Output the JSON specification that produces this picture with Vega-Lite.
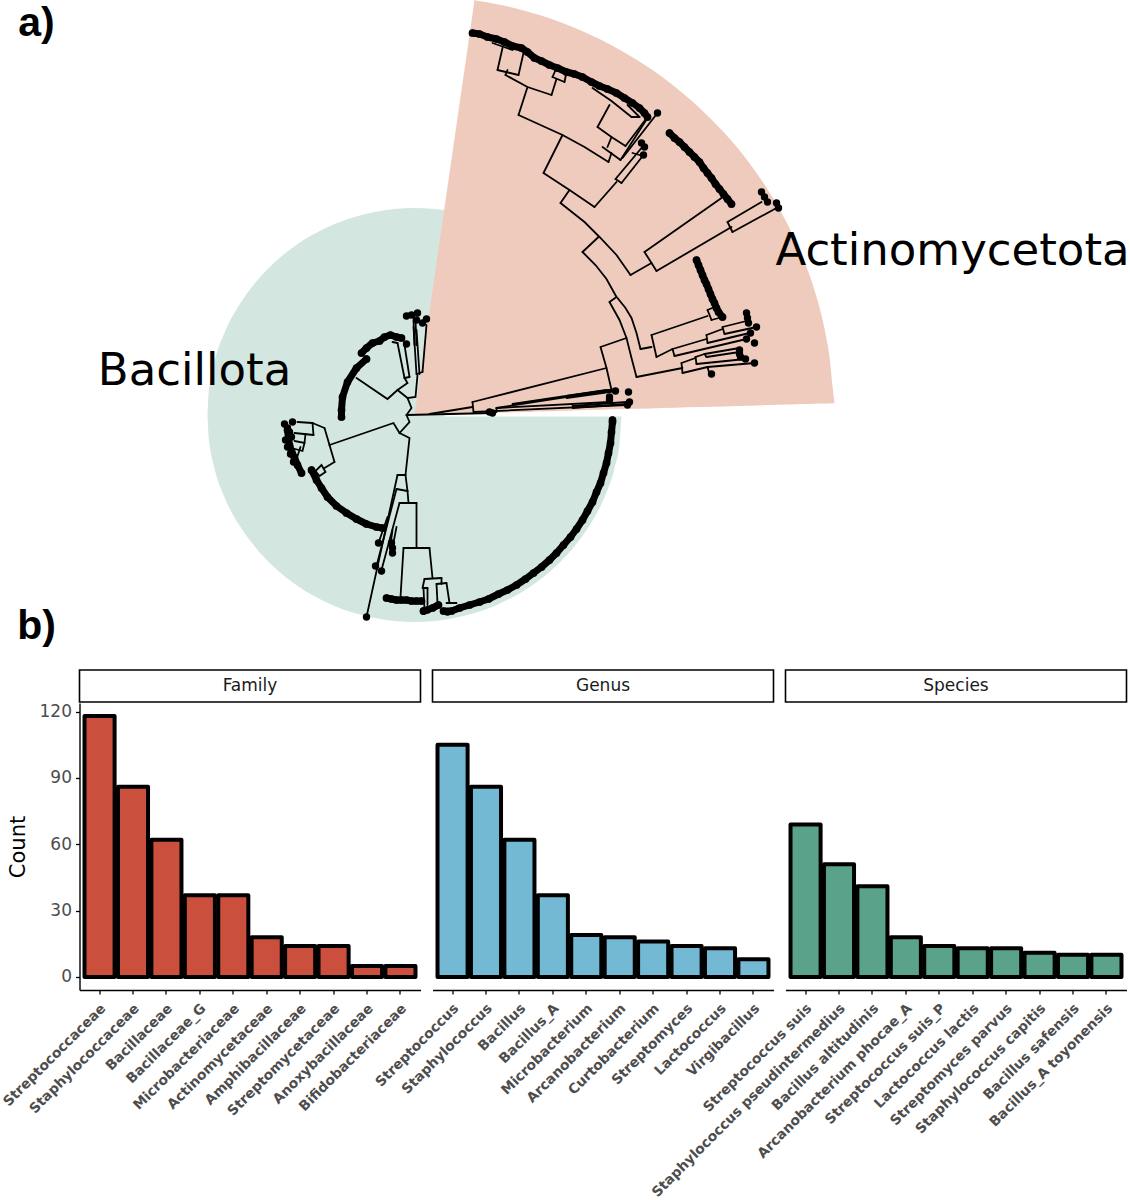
{"$schema":"https://vega.github.io/schema/vega-lite/v6.json","padding":{"left":-0.5,"right":0,"top":0,"bottom":0},"background":"white","bounds":"flush","spacing":0,
"config":{"view":{"stroke":null},"font":"DejaVu Sans"},
"datasets":{
"bars":[{"panel":"Family","name":"Streptococcaceae","count":118},{"panel":"Family","name":"Staphylococcaceae","count":86},{"panel":"Family","name":"Bacillaceae","count":62},{"panel":"Family","name":"Bacillaceae_G","count":37},{"panel":"Family","name":"Microbacteriaceae","count":37},{"panel":"Family","name":"Actinomycetaceae","count":18},{"panel":"Family","name":"Amphibacillaceae","count":14},{"panel":"Family","name":"Streptomycetaceae","count":14},{"panel":"Family","name":"Anoxybacillaceae","count":5},{"panel":"Family","name":"Bifidobacteriaceae","count":5},
{"panel":"Genus","name":"Streptococcus","count":105},{"panel":"Genus","name":"Staphylococcus","count":86},{"panel":"Genus","name":"Bacillus","count":62},{"panel":"Genus","name":"Bacillus_A","count":37},{"panel":"Genus","name":"Microbacterium","count":19},{"panel":"Genus","name":"Arcanobacterium","count":18},{"panel":"Genus","name":"Curtobacterium","count":16},{"panel":"Genus","name":"Streptomyces","count":14},{"panel":"Genus","name":"Lactococcus","count":13},{"panel":"Genus","name":"Virgibacillus","count":8},
{"panel":"Species","name":"Streptococcus suis","count":69},{"panel":"Species","name":"Staphylococcus pseudintermedius","count":51},{"panel":"Species","name":"Bacillus altitudinis","count":41},{"panel":"Species","name":"Arcanobacterium phocae_A","count":18},{"panel":"Species","name":"Streptococcus suis_P","count":14},{"panel":"Species","name":"Lactococcus lactis","count":13},{"panel":"Species","name":"Streptomyces parvus","count":13},{"panel":"Species","name":"Staphylococcus capitis","count":11},{"panel":"Species","name":"Bacillus safensis","count":10},{"panel":"Species","name":"Bacillus_A toyonensis","count":10}],
"bacillotaLeft":[{"x":208,"top":415,"bot":415},{"x":209,"top":395,"bot":435},{"x":210,"top":386.3,"bot":443.7},{"x":215,"top":361.6,"bot":468.4},{"x":225,"top":332.8,"bot":497.2},{"x":240,"top":304.4,"bot":525.6},{"x":255,"top":283.7,"bot":546.3},{"x":275,"top":262.5,"bot":567.5},{"x":295,"top":246.3,"bot":583.7},{"x":315,"top":233.8,"bot":596.2},{"x":335,"top":224.1,"bot":605.9},{"x":355,"top":216.9,"bot":613.1},{"x":375,"top":211.9,"bot":618.1},{"x":395,"top":209,"bot":621},{"x":415,"top":208,"bot":622},{"x":435,"top":209,"bot":621},{"x":445,"top":210.2,"bot":619.8}],
"bacillotaRight":[{"x":444.5,"top":416.5,"bot":619.8},{"x":455,"top":416.5,"bot":618.1},{"x":475,"top":416.5,"bot":613.1},{"x":495,"top":416.5,"bot":605.9},{"x":515,"top":416.5,"bot":596.2},{"x":535,"top":416.5,"bot":583.7},{"x":555,"top":416.5,"bot":567.5},{"x":575,"top":416.5,"bot":546.3},{"x":590,"top":416.5,"bot":525.6},{"x":605,"top":416.5,"bot":497.2},{"x":615,"top":416.5,"bot":468.4},{"x":620,"top":416.5,"bot":443.7},{"x":622,"top":416.5,"bot":416.5}],
"actinoLeft":[{"x":415,"top":415,"bot":415},{"x":475,"top":0.3,"bot":413.3}],
"actinoRight":[{"x":474.5,"top":0.3,"bot":413.3},{"x":500,"top":4.7,"bot":412.6},{"x":525,"top":10.7,"bot":411.9},{"x":550,"top":18.3,"bot":411.2},{"x":575,"top":27.7,"bot":410.5},{"x":600,"top":39.1,"bot":409.8},{"x":625,"top":52.4,"bot":409.1},{"x":650,"top":68.1,"bot":408.4},{"x":675,"top":86.4,"bot":407.7},{"x":700,"top":107.9,"bot":407},{"x":725,"top":133.1,"bot":406.4},{"x":750,"top":163.3,"bot":405.7},{"x":770,"top":192.4,"bot":405.1},{"x":790,"top":228.1,"bot":404.5},{"x":805,"top":261.8,"bot":404.1},{"x":815,"top":290.3,"bot":403.8},{"x":825,"top":328.6,"bot":403.6},{"x":830,"top":357.2,"bot":403.4},{"x":833,"top":386.1,"bot":403.3},{"x":835,"top":403,"bot":403}],
"labels":[{"t":"Actinomycetota","x":953,"y":251},{"t":"Bacillota","x":195,"y":371}],
"tags":[{"t":"a)","x":37,"y":24},{"t":"b)","x":37,"y":627}],
"tips":[{"x":658,"y":113},{"x":762,"y":192},{"x":765,"y":197},{"x":768,"y":202},{"x":777,"y":203},{"x":779,"y":208},{"x":642,"y":143},{"x":645,"y":147},{"x":644,"y":155},{"x":747,"y":313},{"x":748,"y":318},{"x":749,"y":323},{"x":757,"y":327},{"x":751,"y":333},{"x":747,"y":339},{"x":755,"y":343},{"x":740,"y":350},{"x":740,"y":354},{"x":741,"y":357},{"x":746,"y":359},{"x":755,"y":363},{"x":712,"y":374},{"x":629,"y":392},{"x":610,"y":397},{"x":610,"y":400},{"x":630,"y":402},{"x":628,"y":405},{"x":616,"y":391},{"x":493,"y":413},{"x":490,"y":412},{"x":407,"y":316},{"x":412,"y":315},{"x":418,"y":313},{"x":417,"y":320},{"x":427,"y":319},{"x":423,"y":323},{"x":407,"y":344},{"x":285,"y":424},{"x":293,"y":422},{"x":288,"y":428},{"x":290,"y":432},{"x":292,"y":437},{"x":286,"y":440},{"x":288,"y":447},{"x":291,"y":454},{"x":294,"y":462},{"x":367,"y":617},{"x":379,"y":543},{"x":376,"y":566},{"x":382,"y":571},{"x":392,"y":543},{"x":393,"y":548},{"x":393,"y":553},{"x":424,"y":611},{"x":428,"y":610},{"x":448,"y":612}],
"dense":[
{"id":"A","x":473,"y":33},{"id":"A","x":480,"y":34},{"id":"A","x":488,"y":37},{"id":"A","x":497,"y":39},{"id":"A","x":505,"y":42},{"id":"A","x":513,"y":46},{"id":"A","x":522,"y":48},{"id":"A","x":528,"y":52},{"id":"A","x":535,"y":58},{"id":"A","x":542,"y":61},{"id":"A","x":550,"y":65},{"id":"A","x":558,"y":68},{"id":"A","x":567,"y":72},{"id":"A","x":575,"y":74},{"id":"A","x":583,"y":77},{"id":"A","x":592,"y":82},{"id":"A","x":600,"y":86},{"id":"A","x":608,"y":89},{"id":"A","x":617,"y":93},{"id":"A","x":625,"y":98},{"id":"A","x":633,"y":103},{"id":"A","x":640,"y":108},{"id":"A","x":645,"y":113},{"id":"A","x":648,"y":117},
{"id":"B","x":670,"y":133},{"id":"B","x":675,"y":138},{"id":"B","x":680,"y":142},{"id":"B","x":685,"y":147},{"id":"B","x":690,"y":152},{"id":"B","x":695,"y":157},{"id":"B","x":700,"y":162},{"id":"B","x":704,"y":168},{"id":"B","x":708,"y":173},{"id":"B","x":712,"y":178},{"id":"B","x":716,"y":184},{"id":"B","x":720,"y":189},{"id":"B","x":724,"y":194},{"id":"B","x":728,"y":199},{"id":"B","x":732,"y":204},
{"id":"C","x":697,"y":260},{"id":"C","x":699,"y":265},{"id":"C","x":701,"y":270},{"id":"C","x":703,"y":275},{"id":"C","x":705,"y":280},{"id":"C","x":707,"y":284},{"id":"C","x":709,"y":289},{"id":"C","x":711,"y":294},{"id":"C","x":713,"y":299},{"id":"C","x":715,"y":303},{"id":"C","x":717,"y":308},{"id":"C","x":719,"y":312},{"id":"C","x":723,"y":317},
{"id":"D","x":362,"y":353},{"id":"D","x":367,"y":348},{"id":"D","x":373,"y":343},{"id":"D","x":380,"y":341},{"id":"D","x":385,"y":337},{"id":"D","x":391,"y":335},{"id":"D","x":397,"y":337},{"id":"D","x":402,"y":338},
{"id":"E","x":367,"y":359},{"id":"E","x":357,"y":368},{"id":"E","x":348,"y":382},{"id":"E","x":343,"y":397},{"id":"E","x":342,"y":410},{"id":"E","x":342,"y":417},
{"id":"F","x":288,"y":430},{"id":"F","x":289,"y":438},{"id":"F","x":290,"y":445},{"id":"F","x":292,"y":451},{"id":"F","x":295,"y":458},{"id":"F","x":298,"y":465},{"id":"F","x":302,"y":473},
{"id":"G","x":312,"y":470},{"id":"G","x":317,"y":480},{"id":"G","x":322,"y":488},{"id":"G","x":328,"y":497},{"id":"G","x":337,"y":506},{"id":"G","x":347,"y":513},{"id":"G","x":357,"y":519},{"id":"G","x":367,"y":524},{"id":"G","x":377,"y":527},{"id":"G","x":383,"y":528},
{"id":"H","x":613,"y":420},{"id":"H","x":613,"y":422},{"id":"H","x":612,"y":432},{"id":"H","x":611,"y":443},{"id":"H","x":609,"y":453},{"id":"H","x":607,"y":463},{"id":"H","x":604,"y":473},{"id":"H","x":601,"y":483},{"id":"H","x":597,"y":492},{"id":"H","x":593,"y":502},{"id":"H","x":588,"y":511},{"id":"H","x":583,"y":520},{"id":"H","x":577,"y":529},{"id":"H","x":571,"y":537},{"id":"H","x":564,"y":545},{"id":"H","x":557,"y":553},{"id":"H","x":550,"y":560},{"id":"H","x":542,"y":567},{"id":"H","x":534,"y":573},{"id":"H","x":526,"y":579},{"id":"H","x":517,"y":585},{"id":"H","x":508,"y":590},{"id":"H","x":499,"y":594},{"id":"H","x":489,"y":599},{"id":"H","x":480,"y":602},{"id":"H","x":470,"y":605},{"id":"H","x":460,"y":608},{"id":"H","x":452,"y":611},{"id":"H","x":444,"y":611},
{"id":"I","x":387,"y":598},{"id":"I","x":392,"y":599},{"id":"I","x":397,"y":600},{"id":"I","x":402,"y":600},{"id":"I","x":407,"y":600},{"id":"I","x":412,"y":601},{"id":"I","x":417,"y":601},{"id":"I","x":422,"y":601},
{"id":"J","x":424,"y":611},{"id":"J","x":433,"y":608},{"id":"J","x":439,"y":605}],
"branches":[
{"id":1,"x":645,"y":252},{"id":1,"x":722,"y":198},{"id":2,"x":645,"y":252},{"id":2,"x":652,"y":263},{"id":2,"x":657,"y":271},{"id":3,"x":657,"y":271},{"id":3,"x":732,"y":227},{"id":4,"x":728,"y":222},{"id":4,"x":733,"y":232},{"id":5,"x":728,"y":222},{"id":5,"x":762,"y":202},{"id":6,"x":733,"y":232},{"id":6,"x":777,"y":208},{"id":7,"x":631,"y":275},{"id":7,"x":652,"y":263},
{"id":8,"x":561,"y":203},{"id":8,"x":585,"y":222},{"id":8,"x":600,"y":237},{"id":8,"x":617,"y":255},{"id":8,"x":631,"y":275},{"id":9,"x":570,"y":190},{"id":9,"x":561,"y":203},{"id":10,"x":544,"y":173},{"id":10,"x":570,"y":190},{"id":10,"x":595,"y":207},{"id":11,"x":595,"y":207},{"id":11,"x":617,"y":182},{"id":12,"x":616,"y":179},{"id":12,"x":622,"y":183},{"id":13,"x":616,"y":179},{"id":13,"x":642,"y":148},{"id":14,"x":622,"y":183},{"id":14,"x":644,"y":155},{"id":15,"x":633,"y":153},{"id":15,"x":640,"y":155},
{"id":16,"x":544,"y":173},{"id":16,"x":563,"y":135},{"id":17,"x":519,"y":115},{"id":17,"x":563,"y":135},{"id":17,"x":585,"y":147},{"id":17,"x":609,"y":162},{"id":18,"x":519,"y":115},{"id":18,"x":528,"y":87},{"id":19,"x":506,"y":75},{"id":19,"x":528,"y":87},{"id":19,"x":552,"y":95},{"id":20,"x":552,"y":95},{"id":20,"x":557,"y":79},{"id":21,"x":553,"y":77},{"id":21,"x":565,"y":82},{"id":210,"x":553,"y":77},{"id":210,"x":557,"y":68},{"id":211,"x":565,"y":82},{"id":211,"x":567,"y":72},{"id":22,"x":498,"y":70},{"id":22,"x":519,"y":75},{"id":23,"x":498,"y":70},{"id":23,"x":503,"y":48},{"id":24,"x":519,"y":75},{"id":24,"x":524,"y":53},{"id":25,"x":493,"y":43},{"id":25,"x":513,"y":50},{"id":26,"x":506,"y":75},{"id":26,"x":508,"y":70},
{"id":27,"x":603,"y":147},{"id":27,"x":621,"y":160},{"id":28,"x":609,"y":162},{"id":28,"x":612,"y":153},{"id":29,"x":621,"y":160},{"id":29,"x":648,"y":118},{"id":30,"x":623,"y":158},{"id":30,"x":658,"y":113},{"id":31,"x":608,"y":147},{"id":31,"x":612,"y":137},{"id":32,"x":598,"y":127},{"id":32,"x":612,"y":137},{"id":32,"x":626,"y":146},{"id":33,"x":598,"y":127},{"id":33,"x":610,"y":105},{"id":34,"x":626,"y":146},{"id":34,"x":648,"y":117},{"id":35,"x":593,"y":88},{"id":35,"x":612,"y":101},{"id":35,"x":632,"y":117},{"id":37,"x":628,"y":105},{"id":37,"x":640,"y":117},{"id":370,"x":632,"y":117},{"id":370,"x":640,"y":117},
{"id":38,"x":583,"y":252},{"id":38,"x":599,"y":237},{"id":39,"x":583,"y":252},{"id":39,"x":596,"y":265},{"id":39,"x":607,"y":279},{"id":39,"x":617,"y":297},{"id":40,"x":617,"y":297},{"id":40,"x":610,"y":302},{"id":41,"x":610,"y":302},{"id":41,"x":620,"y":320},{"id":41,"x":627,"y":338},{"id":41,"x":632,"y":358},{"id":41,"x":637,"y":377},{"id":42,"x":618,"y":298},{"id":42,"x":626,"y":308},{"id":42,"x":632,"y":318},{"id":42,"x":637,"y":333},{"id":42,"x":641,"y":349},{"id":43,"x":641,"y":349},{"id":43,"x":652,"y":347},
{"id":44,"x":652,"y":335},{"id":44,"x":657,"y":357},{"id":45,"x":652,"y":335},{"id":45,"x":708,"y":316},{"id":46,"x":708,"y":310},{"id":46,"x":712,"y":320},{"id":47,"x":708,"y":310},{"id":47,"x":715,"y":307},{"id":48,"x":712,"y":320},{"id":48,"x":723,"y":317},{"id":49,"x":657,"y":357},{"id":49,"x":673,"y":349},{"id":50,"x":673,"y":349},{"id":50,"x":675,"y":356},{"id":51,"x":673,"y":349},{"id":51,"x":707,"y":339},{"id":52,"x":675,"y":356},{"id":52,"x":747,"y":339},{"id":53,"x":707,"y":335},{"id":53,"x":708,"y":343},{"id":54,"x":707,"y":335},{"id":54,"x":723,"y":329},{"id":55,"x":723,"y":327},{"id":55,"x":725,"y":334},{"id":56,"x":723,"y":327},{"id":56,"x":747,"y":321},{"id":57,"x":725,"y":334},{"id":57,"x":757,"y":327},{"id":58,"x":708,"y":343},{"id":58,"x":750,"y":333},
{"id":59,"x":637,"y":377},{"id":59,"x":683,"y":368},{"id":60,"x":682,"y":363},{"id":60,"x":683,"y":373},{"id":61,"x":682,"y":363},{"id":61,"x":696,"y":358},{"id":62,"x":696,"y":357},{"id":62,"x":697,"y":364},{"id":63,"x":696,"y":357},{"id":63,"x":705,"y":354},{"id":64,"x":705,"y":354},{"id":64,"x":707,"y":357},{"id":65,"x":705,"y":354},{"id":65,"x":740,"y":348},{"id":66,"x":707,"y":357},{"id":66,"x":740,"y":352},{"id":67,"x":697,"y":364},{"id":67,"x":746,"y":359},{"id":68,"x":683,"y":373},{"id":68,"x":708,"y":367},{"id":69,"x":708,"y":367},{"id":69,"x":755,"y":363},{"id":70,"x":708,"y":367},{"id":70,"x":710,"y":374},
{"id":72,"x":601,"y":347},{"id":72,"x":627,"y":338},{"id":73,"x":601,"y":347},{"id":73,"x":607,"y":368},{"id":73,"x":612,"y":390},{"id":74,"x":607,"y":368},{"id":74,"x":473,"y":402},{"id":75,"x":473,"y":402},{"id":75,"x":474,"y":412},{"id":76,"x":430,"y":414},{"id":76,"x":473,"y":407},{"id":77,"x":407,"y":415},{"id":77,"x":493,"y":413},{"id":78,"x":612,"y":390},{"id":78,"x":497,"y":408},{"id":79,"x":497,"y":408},{"id":79,"x":610,"y":402},{"id":80,"x":513,"y":404},{"id":80,"x":607,"y":390},{"id":81,"x":474,"y":412},{"id":81,"x":627,"y":405},{"id":82,"x":497,"y":408},{"id":82,"x":497,"y":412},{"id":86,"x":567,"y":396},{"id":86,"x":617,"y":389},{"id":87,"x":567,"y":398},{"id":87,"x":617,"y":391},{"id":88,"x":573,"y":406},{"id":88,"x":627,"y":402},{"id":89,"x":573,"y":408},{"id":89,"x":627,"y":404},
{"id":100,"x":407,"y":415},{"id":100,"x":410,"y":422},{"id":100,"x":400,"y":433},{"id":100,"x":394,"y":423},{"id":100,"x":330,"y":445},{"id":101,"x":400,"y":433},{"id":101,"x":410,"y":438},{"id":101,"x":406,"y":475},{"id":102,"x":407,"y":415},{"id":102,"x":412,"y":408},{"id":102,"x":408,"y":398},{"id":102,"x":416,"y":397},{"id":102,"x":418,"y":375},{"id":103,"x":408,"y":398},{"id":103,"x":398,"y":390},{"id":103,"x":388,"y":399},{"id":103,"x":357,"y":378},{"id":104,"x":398,"y":390},{"id":104,"x":408,"y":383},{"id":104,"x":405,"y":378},{"id":105,"x":405,"y":378},{"id":105,"x":410,"y":377},{"id":106,"x":405,"y":378},{"id":106,"x":398,"y":343},{"id":107,"x":410,"y":377},{"id":107,"x":405,"y":345},{"id":108,"x":398,"y":343},{"id":108,"x":393,"y":342},{"id":109,"x":417,"y":374},{"id":109,"x":423,"y":372},{"id":110,"x":417,"y":374},{"id":110,"x":414,"y":327},{"id":111,"x":420,"y":374},{"id":111,"x":417,"y":330},{"id":112,"x":423,"y":372},{"id":112,"x":427,"y":325},{"id":113,"x":414,"y":320},{"id":113,"x":415,"y":345},{"id":114,"x":416,"y":320},{"id":114,"x":417,"y":345},
{"id":120,"x":330,"y":445},{"id":120,"x":335,"y":462},{"id":121,"x":330,"y":445},{"id":121,"x":325,"y":428},{"id":122,"x":335,"y":462},{"id":122,"x":325,"y":468},{"id":123,"x":316,"y":471},{"id":123,"x":322,"y":465},{"id":123,"x":326,"y":472},{"id":123,"x":320,"y":476},{"id":123,"x":316,"y":471},{"id":124,"x":325,"y":428},{"id":124,"x":313,"y":423},{"id":125,"x":313,"y":423},{"id":125,"x":314,"y":435},{"id":126,"x":298,"y":422},{"id":126,"x":313,"y":423},{"id":127,"x":314,"y":435},{"id":127,"x":295,"y":433},{"id":128,"x":306,"y":434},{"id":128,"x":305,"y":443},{"id":128,"x":295,"y":441},{"id":129,"x":305,"y":443},{"id":129,"x":303,"y":451},{"id":129,"x":292,"y":448},{"id":130,"x":301,"y":447},{"id":130,"x":298,"y":456},{"id":130,"x":292,"y":452},
{"id":140,"x":398,"y":475},{"id":140,"x":406,"y":475},{"id":141,"x":398,"y":475},{"id":141,"x":367,"y":617},{"id":142,"x":406,"y":475},{"id":142,"x":408,"y":491},{"id":143,"x":397,"y":489},{"id":143,"x":408,"y":491},{"id":144,"x":397,"y":489},{"id":144,"x":377,"y":566},{"id":145,"x":408,"y":491},{"id":145,"x":409,"y":503},{"id":146,"x":400,"y":503},{"id":146,"x":417,"y":503},{"id":147,"x":417,"y":503},{"id":147,"x":417,"y":548},{"id":148,"x":400,"y":503},{"id":148,"x":382,"y":570},{"id":149,"x":388,"y":517},{"id":149,"x":379,"y":543},{"id":150,"x":397,"y":527},{"id":150,"x":392,"y":553},{"id":151,"x":393,"y":530},{"id":151,"x":391,"y":545},{"id":152,"x":404,"y":548},{"id":152,"x":430,"y":548},{"id":153,"x":404,"y":548},{"id":153,"x":401,"y":597},{"id":154,"x":430,"y":548},{"id":154,"x":433,"y":578},{"id":155,"x":425,"y":579},{"id":155,"x":442,"y":578},{"id":156,"x":425,"y":579},{"id":156,"x":423,"y":588},{"id":157,"x":424,"y":588},{"id":157,"x":428,"y":588},{"id":158,"x":424,"y":588},{"id":158,"x":425,"y":610},{"id":159,"x":428,"y":588},{"id":159,"x":428,"y":605},{"id":160,"x":442,"y":578},{"id":160,"x":442,"y":584},{"id":161,"x":437,"y":584},{"id":161,"x":447,"y":583},{"id":162,"x":437,"y":584},{"id":162,"x":438,"y":603},{"id":163,"x":447,"y":583},{"id":163,"x":450,"y":603},{"id":164,"x":447,"y":603},{"id":164,"x":457,"y":603}]
},
"vconcat":[
{"width":1130,"height":670,
"encoding":{"x":{"field":"x","type":"quantitative","scale":{"domain":[0,1130],"nice":false,"zero":false},"axis":null},"y":{"field":"y","type":"quantitative","scale":{"domain":[670,0],"nice":false,"zero":false},"axis":null}},
"layer":[
{"data":{"name":"bacillotaLeft"},"mark":{"type":"area","color":"#D3E7E0","opacity":1,"line":false,"interpolate":"monotone"},"encoding":{"y":{"field":"top","type":"quantitative","stack":null},"y2":{"field":"bot"}}},
{"data":{"name":"bacillotaRight"},"mark":{"type":"area","color":"#D3E7E0","opacity":1,"line":false,"interpolate":"monotone"},"encoding":{"y":{"field":"top","type":"quantitative","stack":null},"y2":{"field":"bot"}}},
{"data":{"name":"actinoLeft"},"mark":{"type":"area","color":"#EECBBD","opacity":1,"line":false},"encoding":{"y":{"field":"top","type":"quantitative","stack":null},"y2":{"field":"bot"}}},
{"data":{"name":"actinoRight"},"mark":{"type":"area","color":"#EECBBD","opacity":1,"line":false,"interpolate":"monotone"},"encoding":{"y":{"field":"top","type":"quantitative","stack":null},"y2":{"field":"bot"}}},
{"data":{"name":"branches"},"mark":{"type":"line","color":"black","strokeWidth":1.8,"strokeCap":"round"},"encoding":{"detail":{"field":"id"},"order":{"value":null}}},
{"data":{"name":"dense"},"mark":{"type":"line","color":"black","strokeWidth":7,"strokeCap":"round","strokeJoin":"round"},"encoding":{"detail":{"field":"id"},"order":{"value":null}}},
{"data":{"name":"dense"},"mark":{"type":"circle","color":"black","size":60,"opacity":1}},
{"data":{"name":"tips"},"mark":{"type":"circle","color":"black","size":55,"opacity":1}},
{"data":{"name":"labels"},"mark":{"type":"text","color":"black","fontSize":45,"font":"DejaVu Sans"},"encoding":{"text":{"field":"t"}}},
{"data":{"name":"tags"},"mark":{"type":"text","color":"black","fontSize":41,"font":"Liberation Sans","fontWeight":"bold"},"encoding":{"text":{"field":"t"}}}
]},
{"concat":[
{"width":68,"height":32,"data":{"values":[]},"mark":"point"},
{"width":341,"height":32,"data":{"values":[{"panel":"Family"}]},"mark":{"type":"text","fontSize":17,"color":"#1a1a1a"},"encoding":{"text":{"field":"panel"}},"view":{"stroke":"black","strokeWidth":1.6,"fill":"white"}},
{"width":341,"height":32,"data":{"values":[{"panel":"Genus"}]},"mark":{"type":"text","fontSize":17,"color":"#1a1a1a"},"encoding":{"text":{"field":"panel"}},"view":{"stroke":"black","strokeWidth":1.6,"fill":"white"}},
{"width":341,"height":32,"data":{"values":[{"panel":"Species"}]},"mark":{"type":"text","fontSize":17,"color":"#1a1a1a"},"encoding":{"text":{"field":"panel"}},"view":{"stroke":"black","strokeWidth":1.6,"fill":"white"}},
{"width":68,"height":287,"data":{"values":[]},"mark":"point"},
{"width":341,"height":287,"data":{"name":"bars"},"transform":[{"filter":"datum.panel==='Family'"}],"mark":{"type":"bar","fill":"#CB4F3D","stroke":"black","strokeWidth":4,"strokeJoin":"round"},
"encoding":{"x":{"field":"name","type":"nominal","sort":null,"title":null,"scale":{"paddingInner":0.1,"paddingOuter":0.15},"axis":{"labelAngle":-45,"labelAlign":"right","labelBaseline":"top","labelFontWeight":"bold","labelFontSize":13.8,"labelColor":"#4D4D4D","labelLimit":500,"labelOverlap":false,"labelPadding":7,"labelOffset":-1,"tickColor":"black","tickSize":4,"tickWidth":1.3,"domainColor":"black","domainWidth":1.4,"grid":false}},
"y":{"field":"count","type":"quantitative","title":"Count","scale":{"domain":[-5.9,123.9],"nice":false,"zero":false},"axis":{"values":[0,30,60,90,120],"grid":false,"labelColor":"#4D4D4D","labelFontSize":17,"labelPadding":4,"tickColor":"black","tickSize":4,"tickWidth":1.3,"domainColor":"black","domainWidth":1.4,"titleFontWeight":"normal","titleFontSize":21,"titleColor":"black","titlePadding":11}}}},
{"width":341,"height":287,"data":{"name":"bars"},"transform":[{"filter":"datum.panel==='Genus'"}],"mark":{"type":"bar","fill":"#74B9D3","stroke":"black","strokeWidth":4,"strokeJoin":"round"},
"encoding":{"x":{"field":"name","type":"nominal","sort":null,"title":null,"scale":{"paddingInner":0.1,"paddingOuter":0.15},"axis":{"labelAngle":-45,"labelAlign":"right","labelBaseline":"top","labelFontWeight":"bold","labelFontSize":13.8,"labelColor":"#4D4D4D","labelLimit":500,"labelOverlap":false,"labelPadding":7,"labelOffset":-1,"tickColor":"black","tickSize":4,"tickWidth":1.3,"domainColor":"black","domainWidth":1.4,"grid":false}},
"y":{"field":"count","type":"quantitative","scale":{"domain":[-5.9,123.9],"nice":false,"zero":false},"axis":null}}},
{"width":341,"height":287,"data":{"name":"bars"},"transform":[{"filter":"datum.panel==='Species'"}],"mark":{"type":"bar","fill":"#5BA28A","stroke":"black","strokeWidth":4,"strokeJoin":"round"},
"encoding":{"x":{"field":"name","type":"nominal","sort":null,"title":null,"scale":{"paddingInner":0.1,"paddingOuter":0.15},"axis":{"labelAngle":-45,"labelAlign":"right","labelBaseline":"top","labelFontWeight":"bold","labelFontSize":13.8,"labelColor":"#4D4D4D","labelLimit":500,"labelOverlap":false,"labelPadding":7,"labelOffset":-1,"tickColor":"black","tickSize":4,"tickWidth":1.3,"domainColor":"black","domainWidth":1.4,"grid":false}},
"y":{"field":"count","type":"quantitative","scale":{"domain":[-5.9,123.9],"nice":false,"zero":false},"axis":null}}}
],"columns":4,"align":"each","bounds":"flush","spacing":{"row":1,"column":12},"resolve":{"scale":{"x":"independent","y":"independent"}}}
]}
